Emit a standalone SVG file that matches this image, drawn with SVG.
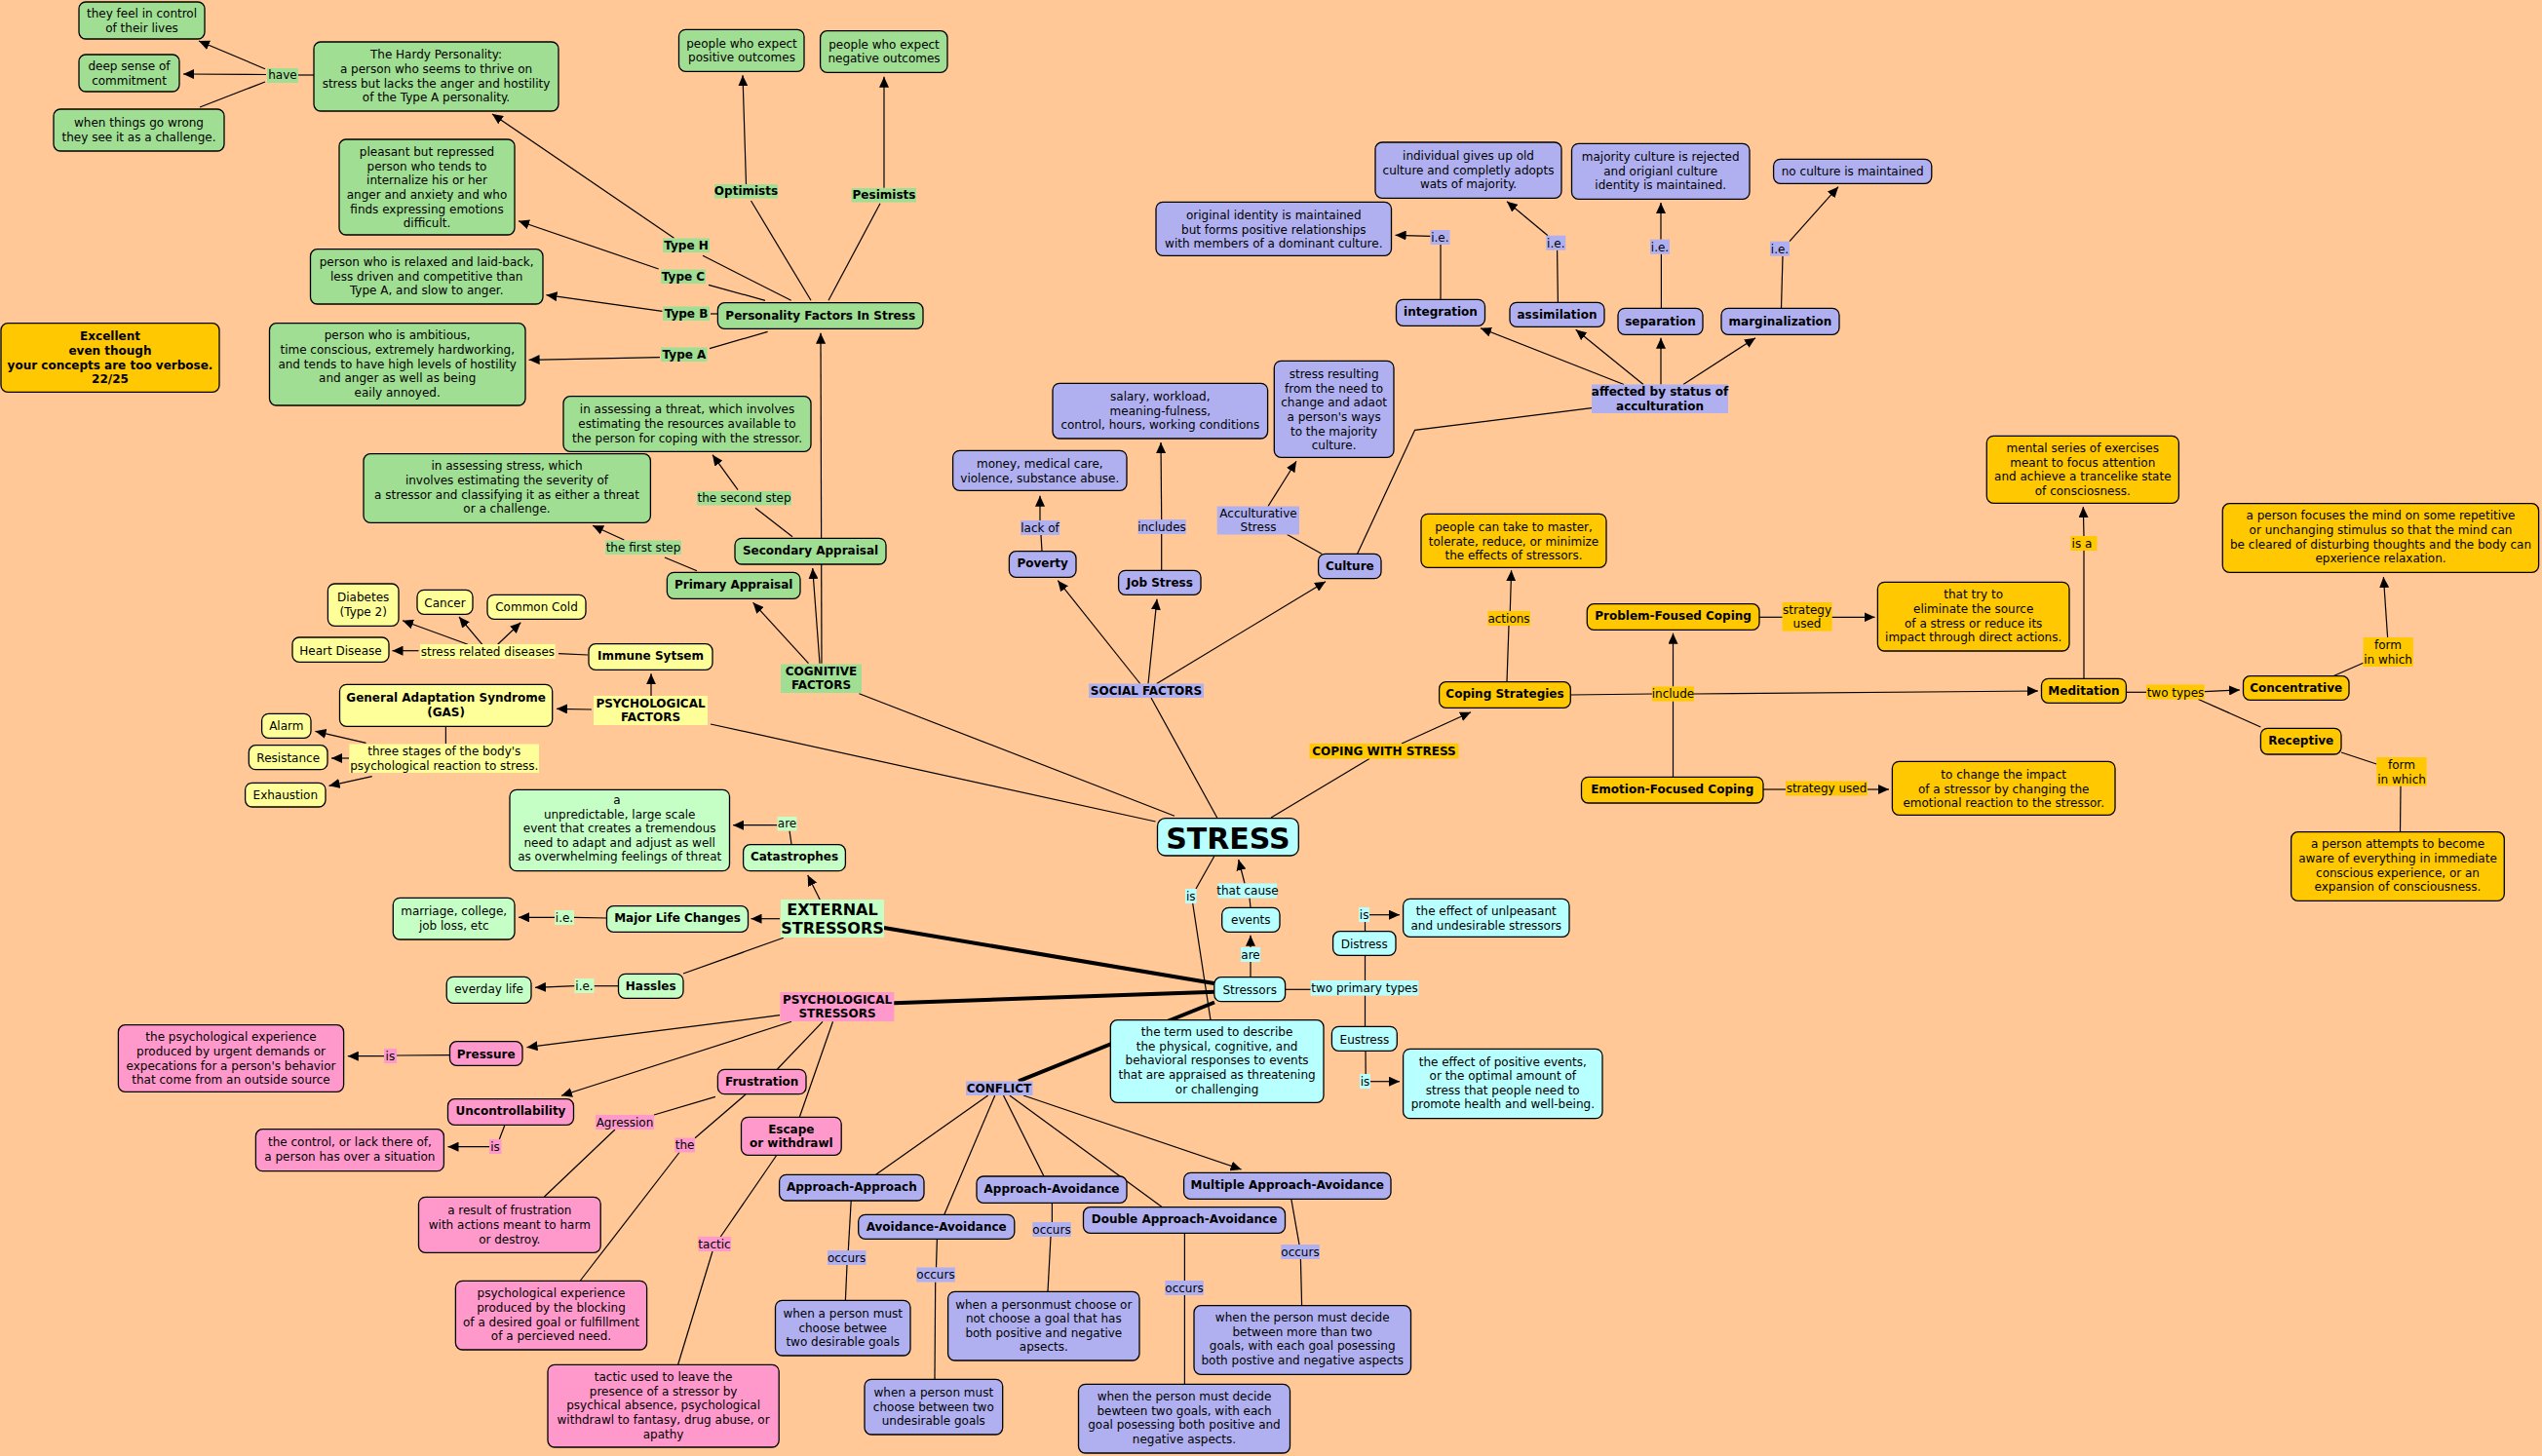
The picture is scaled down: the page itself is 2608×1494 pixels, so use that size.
<svg xmlns="http://www.w3.org/2000/svg" width="2608" height="1494" viewBox="0 0 2608 1494">
<defs>
<marker id="ar" markerWidth="12" markerHeight="10" refX="11" refY="5" orient="auto" markerUnits="userSpaceOnUse"><path d="M0,0 L11,5 L0,10 z" fill="#000"/></marker>
<style>
.t{font-family:"DejaVu Sans",Verdana,"Liberation Sans",sans-serif;font-size:12px;text-anchor:middle;fill:#000}
.b{font-weight:bold}
.n{stroke:#000;stroke-width:1.3}
.g{fill:#A0DE93}.lg{fill:#C6FFC6}.y{fill:#FFFF99}.p{fill:#B0B0F0}.o{fill:#FFC800}.c{fill:#B8FFFF}.k{fill:#FF99CC}
#conn line,#conn polyline{stroke:#000;stroke-width:1.2;fill:none}
#conn line.thick{stroke-width:4}
.a{marker-end:url(#ar)}
</style>
</defs>
<rect x="0" y="0" width="2608" height="1494" fill="#FFC896"/>
<g id="conn">
<line class="a" x1="272" y1="70.7" x2="204" y2="42"/>
<line class="a" x1="273" y1="76.5" x2="188" y2="76"/>
<line x1="272" y1="84" x2="205" y2="110"/>
<line x1="306" y1="77" x2="322" y2="77"/>
<line class="a" x1="691.5" y1="244.3" x2="505" y2="117"/>
<line x1="721" y1="262.3" x2="811.7" y2="308.3"/>
<line class="a" x1="675.7" y1="276" x2="532" y2="226.7"/>
<line x1="727" y1="292.3" x2="785" y2="308.3"/>
<line class="a" x1="679.4" y1="319.3" x2="560.5" y2="302.7"/>
<line x1="729" y1="322" x2="736.4" y2="322"/>
<line class="a" x1="677" y1="366.7" x2="542.6" y2="369.3"/>
<line x1="728" y1="357.7" x2="787.6" y2="340.3"/>
<line class="a" x1="765.5" y1="189.3" x2="762" y2="77.3"/>
<line x1="770.5" y1="206" x2="832" y2="308.3"/>
<line class="a" x1="907" y1="192.7" x2="907" y2="78.7"/>
<line x1="903" y1="208.7" x2="850" y2="308.3"/>
<line class="a" x1="843" y1="680.7" x2="842" y2="341.7"/>
<line class="a" x1="841" y1="680.7" x2="833.7" y2="583"/>
<line class="a" x1="829.5" y1="680.7" x2="772.6" y2="618.3"/>
<line x1="881.5" y1="711.7" x2="1205" y2="837.3"/>
<line x1="813" y1="550.7" x2="775" y2="521.3"/>
<line class="a" x1="757" y1="502.7" x2="731" y2="466.7"/>
<line x1="715" y1="585.7" x2="682" y2="572"/>
<line class="a" x1="640.3" y1="554" x2="608" y2="539.3"/>
<line class="a" x1="668" y1="714.7" x2="668" y2="691.3"/>
<line class="a" x1="607" y1="728" x2="571" y2="727.3"/>
<line x1="729" y1="743" x2="1185.5" y2="843"/>
<line x1="603" y1="672" x2="573" y2="670.7"/>
<line class="a" x1="429.5" y1="667.7" x2="402.5" y2="667.7"/>
<line class="a" x1="480" y1="661.3" x2="413" y2="636.7"/>
<line class="a" x1="494.8" y1="661.3" x2="471" y2="633"/>
<line class="a" x1="510.6" y1="661.3" x2="534.3" y2="638.7"/>
<line x1="457.4" y1="746" x2="457.4" y2="763"/>
<line class="a" x1="375.5" y1="762.3" x2="323.5" y2="750.3"/>
<line class="a" x1="358" y1="778" x2="340" y2="778"/>
<line class="a" x1="381.7" y1="796.7" x2="337.6" y2="806.3"/>
<line class="a" x1="842" y1="924.7" x2="828.7" y2="898"/>
<line class="a" x1="800" y1="942.7" x2="770.5" y2="942.7"/>
<line x1="803.8" y1="962.3" x2="701" y2="999"/>
<line class="thick" x1="907" y1="952" x2="1247" y2="1009.3"/>
<line x1="812" y1="866" x2="810" y2="852.3"/>
<line class="a" x1="797" y1="846.7" x2="752" y2="846.7"/>
<line x1="622" y1="942" x2="589" y2="941.3"/>
<line class="a" x1="569" y1="941.3" x2="532" y2="941.3"/>
<line x1="634" y1="1011.7" x2="609.5" y2="1011.7"/>
<line class="a" x1="589.5" y1="1011.7" x2="549" y2="1013.3"/>
<line class="a" x1="800" y1="1041.7" x2="540.5" y2="1074.7"/>
<line class="a" x1="812" y1="1048.3" x2="576" y2="1124.3"/>
<line x1="844" y1="1048.3" x2="797.5" y2="1097"/>
<line x1="854.5" y1="1048.3" x2="820.4" y2="1146"/>
<line class="thick" x1="917" y1="1029.3" x2="1246.6" y2="1017.7"/>
<line x1="461" y1="1082.7" x2="407" y2="1083"/>
<line class="a" x1="394" y1="1083.7" x2="356.8" y2="1083.7"/>
<line x1="517.7" y1="1155" x2="512.3" y2="1169"/>
<line class="a" x1="502" y1="1176.7" x2="459.5" y2="1176.7"/>
<line x1="734" y1="1125.3" x2="671" y2="1144"/>
<line x1="631" y1="1159" x2="558.4" y2="1228"/>
<line x1="765" y1="1123" x2="713" y2="1167.7"/>
<line x1="697" y1="1182.5" x2="595.4" y2="1314"/>
<line x1="796.7" y1="1185.5" x2="739.3" y2="1269"/>
<line x1="731" y1="1284" x2="695.7" y2="1400"/>
<line x1="1245.8" y1="878.5" x2="1227" y2="912"/>
<line x1="1223.7" y1="927" x2="1242" y2="1046.7"/>
<line class="a" x1="1277" y1="906.5" x2="1270.7" y2="882"/>
<line x1="1283" y1="931" x2="1282" y2="921.5"/>
<line class="a" x1="1283" y1="972" x2="1283" y2="959.7"/>
<line x1="1283" y1="1002.7" x2="1283" y2="987"/>
<line x1="1248.7" y1="839" x2="1181" y2="716"/>
<line x1="1304" y1="839" x2="1405" y2="778.5"/>
<line class="a" x1="1169.7" y1="701.5" x2="1085.3" y2="595.7"/>
<line class="a" x1="1178" y1="701.5" x2="1187" y2="614.7"/>
<line class="a" x1="1186.7" y1="701.5" x2="1360" y2="596.7"/>
<line x1="1069" y1="565.7" x2="1068" y2="549"/>
<line class="a" x1="1067" y1="534" x2="1067" y2="508.7"/>
<line x1="1191.7" y1="585.3" x2="1191.7" y2="548"/>
<line class="a" x1="1191.7" y1="533" x2="1191" y2="454"/>
<line x1="1356" y1="568.3" x2="1320.6" y2="548.5"/>
<line class="a" x1="1301" y1="519.5" x2="1330" y2="473.3"/>
<polyline points="1392.6,568.3 1451.6,441.3 1633,418.7"/>
<line class="a" x1="1666" y1="394.5" x2="1519" y2="336.7"/>
<line class="a" x1="1686" y1="394.5" x2="1616.7" y2="338.3"/>
<line class="a" x1="1704" y1="394.5" x2="1704" y2="346.7"/>
<line class="a" x1="1727" y1="394.5" x2="1801" y2="346.7"/>
<line x1="1478" y1="307.3" x2="1478" y2="251"/>
<line class="a" x1="1467.5" y1="242.3" x2="1431.6" y2="241.3"/>
<line x1="1598.4" y1="310.3" x2="1597.6" y2="256.7"/>
<line class="a" x1="1588" y1="241.7" x2="1546" y2="206.7"/>
<line x1="1704.4" y1="316.3" x2="1704.4" y2="260.7"/>
<line class="a" x1="1704" y1="245.7" x2="1704" y2="208"/>
<line x1="1827.5" y1="316.3" x2="1829" y2="262.7"/>
<line class="a" x1="1836" y1="247.7" x2="1886" y2="191.7"/>
<line class="a" x1="1438" y1="763" x2="1509" y2="730.7"/>
<line x1="1546" y1="699.7" x2="1548" y2="642"/>
<line class="a" x1="1549.3" y1="627" x2="1550.6" y2="585.3"/>
<line x1="1611.3" y1="713" x2="1695" y2="712"/>
<line class="a" x1="1716.5" y1="704.5" x2="1716.5" y2="649.7"/>
<line x1="1716.5" y1="719.5" x2="1716.5" y2="797.3"/>
<line class="a" x1="1738" y1="712" x2="2091" y2="709"/>
<line x1="1805" y1="633.3" x2="1828.7" y2="633.3"/>
<line class="a" x1="1879.5" y1="633.3" x2="1923.5" y2="633.3"/>
<line x1="1809" y1="810" x2="1832" y2="810"/>
<line class="a" x1="1916" y1="810" x2="1938" y2="810"/>
<line x1="2138" y1="696.3" x2="2138" y2="565"/>
<line class="a" x1="2138" y1="550" x2="2137.3" y2="520"/>
<line x1="2181.4" y1="710.3" x2="2202" y2="710.3"/>
<line class="a" x1="2261.6" y1="709.7" x2="2298" y2="708"/>
<line x1="2255.4" y1="717.5" x2="2319.4" y2="746"/>
<line x1="2393.8" y1="693.7" x2="2424.6" y2="680.3"/>
<line class="a" x1="2449.6" y1="654" x2="2445.4" y2="592"/>
<line x1="2402" y1="772" x2="2438.3" y2="784"/>
<line x1="2463" y1="806.5" x2="2462.5" y2="853.7"/>
<line x1="1318.6" y1="1015.3" x2="1344.7" y2="1015.3"/>
<line x1="1400.5" y1="1006" x2="1400.5" y2="980.3"/>
<line x1="1400.5" y1="1021.5" x2="1400.5" y2="1053.3"/>
<line x1="1400.5" y1="955.7" x2="1400.5" y2="946"/>
<line class="a" x1="1405" y1="938.7" x2="1436" y2="938.7"/>
<line x1="1401" y1="1078.3" x2="1401.2" y2="1102"/>
<line class="a" x1="1406" y1="1109.7" x2="1436" y2="1109.7"/>
<line class="thick" x1="1246" y1="1028.5" x2="1045" y2="1109.3"/>
<line x1="1013.7" y1="1124" x2="898.6" y2="1205.3"/>
<line x1="1020.8" y1="1124" x2="968.8" y2="1246.3"/>
<line x1="1029.5" y1="1124" x2="1071" y2="1207"/>
<line x1="1035.8" y1="1124" x2="1192.5" y2="1238.7"/>
<line class="a" x1="1050" y1="1124" x2="1273.6" y2="1200"/>
<line x1="873.2" y1="1232" x2="870.3" y2="1283"/>
<line x1="869" y1="1298" x2="867.4" y2="1334.3"/>
<line x1="961.4" y1="1271.3" x2="960.5" y2="1300.5"/>
<line x1="959.7" y1="1315.5" x2="959" y2="1415.3"/>
<line x1="1079.4" y1="1234.3" x2="1079.4" y2="1254"/>
<line x1="1078" y1="1269" x2="1075" y2="1325.3"/>
<line x1="1215.4" y1="1265.3" x2="1215.4" y2="1314"/>
<line x1="1215.4" y1="1329" x2="1215.4" y2="1420.3"/>
<line x1="1324.8" y1="1230.3" x2="1333" y2="1277"/>
<line x1="1334.4" y1="1292" x2="1335.6" y2="1339.7"/>
</g>
<g id="labels">
<g id="l_have"><rect class="g" x="274" y="70" width="32" height="15"/><text class="t" x="290" y="81.2">have</text></g>
<g id="l_opt"><rect class="g" x="733" y="189" width="65" height="14.5"/><text class="t b" x="765.5" y="200.2">Optimists</text></g>
<g id="l_pes"><rect class="g" x="873.6" y="193" width="66.4" height="14.5"/><text class="t b" x="907" y="204.2">Pesimists</text></g>
<g id="l_th"><rect class="g" x="680" y="244.5" width="48" height="14.5"/><text class="t b" x="704" y="255.9">Type H</text></g>
<g id="l_tc"><rect class="g" x="678" y="276.5" width="46" height="14.5"/><text class="t b" x="701" y="287.9">Type C</text></g>
<g id="l_tb"><rect class="g" x="680" y="314.5" width="48" height="14.5"/><text class="t b" x="704" y="325.9">Type B</text></g>
<g id="l_ta"><rect class="g" x="678" y="356.5" width="47.6" height="14.5"/><text class="t b" x="702" y="367.9">Type A</text></g>
<g id="l_second"><rect class="g" x="715" y="504" width="97" height="14.5"/><text class="t" x="763.5" y="515.2">the second step</text></g>
<g id="l_first"><rect class="g" x="621" y="554.5" width="78" height="14.5"/><text class="t" x="660" y="565.9">the first step</text></g>
<g id="l_cog"><rect class="g" x="801" y="681.5" width="83" height="29.5"/><text class="t b" x="842.5" y="693.2">COGNITIVE</text><text class="t b" x="842.5" y="707.4">FACTORS</text></g>
<g id="l_srd"><rect class="y" x="431" y="661" width="138.6" height="15"/><text class="t" x="500.4" y="672.9">stress related diseases</text></g>
<g id="l_psyf"><rect class="y" x="609" y="714" width="117" height="30"/><text class="t b" x="667.5" y="725.9">PSYCHOLOGICAL</text><text class="t b" x="667.5" y="740.2">FACTORS</text></g>
<g id="l_three"><rect class="y" x="358.4" y="763.5" width="194.6" height="29.5"/><text class="t" x="455.8" y="775.2">three stages of the body's</text><text class="t" x="455.8" y="789.5">psychological reaction to stress.</text></g>
<g id="l_are1"><rect class="lg" x="797.5" y="838" width="20" height="14.5"/><text class="t" x="807.5" y="849.2">are</text></g>
<g id="l_ext"><rect class="lg" x="801" y="923" width="106" height="39"/><text class="t b" x="854" y="938.8" style="font-size:16px">EXTERNAL</text><text class="t b" x="854" y="958" style="font-size:16px">STRESSORS</text></g>
<g id="l_ie1"><rect class="lg" x="569" y="934" width="20" height="15"/><text class="t" x="579" y="945.5">i.e.</text></g>
<g id="l_ie2"><rect class="lg" x="589.5" y="1004" width="20" height="15"/><text class="t" x="599.5" y="1015.9">i.e.</text></g>
<g id="l_psys"><rect class="k" x="800.4" y="1018" width="116.9" height="30"/><text class="t b" x="859" y="1029.9">PSYCHOLOGICAL</text><text class="t b" x="859" y="1044.2">STRESSORS</text></g>
<g id="l_is1"><rect class="k" x="394" y="1076" width="13" height="15"/><text class="t" x="400.4" y="1087.9">is</text></g>
<g id="l_is2"><rect class="k" x="502" y="1169" width="12.5" height="15"/><text class="t" x="508" y="1180.5">is</text></g>
<g id="l_agr"><rect class="k" x="611" y="1144" width="60" height="15"/><text class="t" x="641" y="1155.9">Agression</text></g>
<g id="l_the"><rect class="k" x="692.3" y="1167.5" width="20.7" height="15"/><text class="t" x="702.6" y="1179.2">the</text></g>
<g id="l_tactic"><rect class="k" x="716.4" y="1269" width="33.6" height="15"/><text class="t" x="733" y="1280.9">tactic</text></g>
<g id="l_conflict"><rect class="p" x="991" y="1109.5" width="68.5" height="14.5"/><text class="t b" x="1025" y="1120.9">CONFLICT</text></g>
<g id="l_occ1"><rect class="p" x="849" y="1283" width="39.5" height="15"/><text class="t" x="868.6" y="1294.9">occurs</text></g>
<g id="l_occ2"><rect class="p" x="940.3" y="1300.5" width="39.5" height="15"/><text class="t" x="960" y="1312.2">occurs</text></g>
<g id="l_occ3"><rect class="p" x="1059.3" y="1254" width="39.5" height="15"/><text class="t" x="1079" y="1265.9">occurs</text></g>
<g id="l_occ4"><rect class="p" x="1195.3" y="1314" width="39.5" height="15"/><text class="t" x="1215" y="1325.9">occurs</text></g>
<g id="l_occ5"><rect class="p" x="1314.3" y="1277" width="39.5" height="15"/><text class="t" x="1334" y="1288.9">occurs</text></g>
<g id="l_social"><rect class="p" x="1117" y="701.5" width="118" height="14.5"/><text class="t b" x="1176" y="712.9">SOCIAL FACTORS</text></g>
<g id="l_lack"><rect class="p" x="1047" y="534" width="40" height="15"/><text class="t" x="1067" y="545.9">lack of</text></g>
<g id="l_incl"><rect class="p" x="1167.6" y="533" width="49.1" height="15"/><text class="t" x="1192" y="544.9">includes</text></g>
<g id="l_accst"><rect class="p" x="1248.7" y="519.5" width="84.3" height="29"/><text class="t" x="1291" y="531.2">Acculturative</text><text class="t" x="1291" y="545.2">Stress</text></g>
<g id="l_aff"><rect class="p" x="1633" y="394.5" width="140" height="29.5"/><text class="t b" x="1703" y="406.2">affected by status of</text><text class="t b" x="1703" y="420.5">acculturation</text></g>
<g id="l_ie3"><rect class="p" x="1467.5" y="236" width="20" height="15"/><text class="t" x="1477.4" y="247.9">i.e.</text></g>
<g id="l_ie4"><rect class="p" x="1586.3" y="241.7" width="20" height="15"/><text class="t" x="1596.3" y="253.5">i.e.</text></g>
<g id="l_ie5"><rect class="p" x="1693" y="245.7" width="20" height="15"/><text class="t" x="1703" y="257.5">i.e.</text></g>
<g id="l_ie6"><rect class="p" x="1816" y="247.7" width="20" height="15"/><text class="t" x="1826" y="259.5">i.e.</text></g>
<g id="l_is3"><rect class="c" x="1216" y="912" width="11.5" height="15"/><text class="t" x="1221.7" y="923.9">is</text></g>
<g id="l_cause"><rect class="c" x="1249.5" y="906.5" width="60.5" height="15"/><text class="t" x="1280" y="918.2">that cause</text></g>
<g id="l_are2"><rect class="c" x="1273" y="972" width="20" height="15"/><text class="t" x="1283" y="983.9">are</text></g>
<g id="l_twop"><rect class="c" x="1344.7" y="1006" width="110.7" height="15.5"/><text class="t" x="1400" y="1017.9">two primary types</text></g>
<g id="l_is4"><rect class="c" x="1394" y="931" width="11" height="15"/><text class="t" x="1399.6" y="942.9">is</text></g>
<g id="l_is5"><rect class="c" x="1395" y="1102" width="11" height="15"/><text class="t" x="1400.5" y="1113.9">is</text></g>
<g id="l_cws"><rect class="o" x="1343.5" y="763" width="153" height="15.5"/><text class="t b" x="1420" y="774.9">COPING WITH STRESS</text></g>
<g id="l_actions"><rect class="o" x="1526.5" y="627" width="43.5" height="15"/><text class="t" x="1548" y="638.9">actions</text></g>
<g id="l_include"><rect class="o" x="1695" y="704.5" width="43" height="15"/><text class="t" x="1716.5" y="716.2">include</text></g>
<g id="l_su1"><rect class="o" x="1828.7" y="618" width="50.8" height="29.5"/><text class="t" x="1854" y="629.9">strategy</text><text class="t" x="1854" y="644.2">used</text></g>
<g id="l_su2"><rect class="o" x="1832" y="801.5" width="84" height="15"/><text class="t" x="1874" y="813.2">strategy used</text></g>
<g id="l_isa"><rect class="o" x="2124.4" y="550" width="27" height="15"/><text class="t" x="2136" y="561.9">is a</text></g>
<g id="l_twot"><rect class="o" x="2202" y="702.5" width="59.6" height="15"/><text class="t" x="2232" y="714.5">two types</text></g>
<g id="l_form1"><rect class="o" x="2424.6" y="654" width="51.2" height="30"/><text class="t" x="2450" y="666.2">form</text><text class="t" x="2450" y="680.5">in which</text></g>
<g id="l_form2"><rect class="o" x="2438.3" y="777" width="51.2" height="29.5"/><text class="t" x="2464" y="788.9">form</text><text class="t" x="2464" y="803.5">in which</text></g>
</g>
<g id="n_feel"><rect class="n g" x="81" y="2" width="129" height="38" rx="7"/><text class="t"><tspan x="145.5" y="18">they feel in control</tspan><tspan x="145.5" y="32.5">of their lives</tspan></text></g>
<g id="n_commit"><rect class="n g" x="81" y="56" width="103" height="38" rx="7"/><text class="t"><tspan x="132.5" y="72">deep sense of</tspan><tspan x="132.5" y="86.5">commitment</tspan></text></g>
<g id="n_wrong"><rect class="n g" x="55" y="112" width="175" height="43" rx="7"/><text class="t"><tspan x="142.5" y="130">when things go wrong</tspan><tspan x="142.5" y="145">they see it as a challenge.</tspan></text></g>
<g id="n_hardy"><rect class="n g" x="322" y="43" width="251" height="71" rx="7"/><text class="t"><tspan x="447.5" y="60">The Hardy Personality:</tspan><tspan x="447.5" y="75">a person who seems to thrive on</tspan><tspan x="447.5" y="89.5">stress but lacks the anger and hostility</tspan><tspan x="447.5" y="104">of the Type A personality.</tspan></text></g>
<g id="n_typec"><rect class="n g" x="348" y="143" width="180" height="98" rx="7"/><text class="t"><tspan x="438" y="160.2">pleasant but repressed</tspan><tspan x="438" y="174.9">person who tends to</tspan><tspan x="438" y="189.2">internalize his or her</tspan><tspan x="438" y="203.9">anger and anxiety and who</tspan><tspan x="438" y="218.5">finds expressing emotions</tspan><tspan x="438" y="232.9">difficult.</tspan></text></g>
<g id="n_typeb"><rect class="n g" x="318.5" y="255.7" width="238.5" height="56.3" rx="7"/><text class="t"><tspan x="437.7" y="272.9">person who is relaxed and laid-back,</tspan><tspan x="437.7" y="287.5">less driven and competitive than</tspan><tspan x="437.7" y="301.9">Type A, and slow to anger.</tspan></text></g>
<g id="n_typea"><rect class="n g" x="276.5" y="331.7" width="262.5" height="84.3" rx="7"/><text class="t"><tspan x="407.7" y="348.2">person who is ambitious,</tspan><tspan x="407.7" y="362.9">time conscious, extremely hardworking,</tspan><tspan x="407.7" y="377.5">and tends to have high levels of hostility</tspan><tspan x="407.7" y="392.2">and anger as well as being</tspan><tspan x="407.7" y="406.9">eaily annoyed.</tspan></text></g>
<g id="n_excellent"><rect class="n o" x="1" y="331.7" width="224" height="70.6" rx="7"/><text class="t b"><tspan x="113" y="349.2">Excellent</tspan><tspan x="113" y="363.9">even though</tspan><tspan x="113" y="378.5">your concepts are too verbose.</tspan><tspan x="113" y="392.9">22/25</tspan></text></g>
<g id="n_pos"><rect class="n g" x="696.5" y="30.3" width="128.5" height="43" rx="7"/><text class="t"><tspan x="761" y="48.5">people who expect</tspan><tspan x="761" y="62.9">positive outcomes</tspan></text></g>
<g id="n_neg"><rect class="n g" x="841.6" y="31.7" width="130.4" height="42.6" rx="7"/><text class="t"><tspan x="907" y="49.5">people who expect</tspan><tspan x="907" y="64">negative outcomes</tspan></text></g>
<g id="n_pers"><rect class="n g" x="736.4" y="310.7" width="210.6" height="26.6" rx="7"/><text class="t b" x="841.7" y="327.5">Personality Factors In Stress</text></g>
<g id="n_threat"><rect class="n g" x="578" y="406.7" width="254" height="56.6" rx="7"/><text class="t"><tspan x="705" y="424.2">in assessing a threat, which involves</tspan><tspan x="705" y="438.9">estimating the resources available to</tspan><tspan x="705" y="453.5">the person for coping with the stressor.</tspan></text></g>
<g id="n_assess"><rect class="n g" x="373" y="465.7" width="294.4" height="70.6" rx="7"/><text class="t"><tspan x="520" y="482.2">in assessing stress, which</tspan><tspan x="520" y="496.5">involves estimating the severity of</tspan><tspan x="520" y="511.5">a stressor and classifying it as either a threat</tspan><tspan x="520" y="526.2">or a challenge.</tspan></text></g>
<g id="n_secondary"><rect class="n g" x="754" y="552.3" width="155" height="26.7" rx="7"/><text class="t b" x="831.5" y="569.2">Secondary Appraisal</text></g>
<g id="n_primary"><rect class="n g" x="684.4" y="587.3" width="136.6" height="27" rx="7"/><text class="t b" x="752.7" y="604.2">Primary Appraisal</text></g>
<g id="n_immune"><rect class="n y" x="604" y="660.7" width="127" height="26.6" rx="7"/><text class="t b" x="667.5" y="677">Immune Sytsem</text></g>
<g id="n_gas"><rect class="n y" x="348.5" y="702.3" width="218.2" height="43" rx="7"/><text class="t b"><tspan x="457.6" y="720.2">General Adaptation Syndrome</tspan><tspan x="457.6" y="734.5">(GAS)</tspan></text></g>
<g id="n_heart"><rect class="n y" x="300" y="654" width="99" height="25.3" rx="7"/><text class="t" x="349.5" y="671.9">Heart Disease</text></g>
<g id="n_diab"><rect class="n y" x="336.4" y="599" width="72.6" height="43.3" rx="7"/><text class="t"><tspan x="372.7" y="616.9">Diabetes</tspan><tspan x="372.7" y="631.9">(Type 2)</tspan></text></g>
<g id="n_cancer"><rect class="n y" x="428" y="605.3" width="57" height="25" rx="7"/><text class="t" x="456.5" y="622.5">Cancer</text></g>
<g id="n_cold"><rect class="n y" x="500" y="610.3" width="101" height="25" rx="7"/><text class="t" x="550.5" y="627.2">Common Cold</text></g>
<g id="n_alarm"><rect class="n y" x="268.6" y="732.3" width="50.4" height="25" rx="7"/><text class="t" x="293.8" y="748.9">Alarm</text></g>
<g id="n_resist"><rect class="n y" x="255.3" y="764.7" width="80.7" height="25" rx="7"/><text class="t" x="295.7" y="781.5">Resistance</text></g>
<g id="n_exhaust"><rect class="n y" x="251.6" y="803.3" width="82.4" height="24.7" rx="7"/><text class="t" x="292.8" y="819.9">Exhaustion</text></g>
<g id="n_catdef"><rect class="n lg" x="523" y="810.3" width="225.5" height="83.4" rx="7"/><text class="t"><tspan x="633" y="824.9">a</tspan><tspan x="635.7" y="839.5">unpredictable, large scale</tspan><tspan x="635.7" y="853.9">event that creates a tremendous</tspan><tspan x="635.7" y="868.5">need to adapt and adjust as well</tspan><tspan x="635.7" y="882.9">as overwhelming feelings of threat</tspan></text></g>
<g id="n_catas"><rect class="n lg" x="762.6" y="866.7" width="104.8" height="27" rx="7"/><text class="t b" x="815" y="883.2">Catastrophes</text></g>
<g id="n_major"><rect class="n lg" x="622.5" y="929.7" width="145" height="26.6" rx="7"/><text class="t b" x="695" y="946.2">Major Life Changes</text></g>
<g id="n_marriage"><rect class="n lg" x="403.3" y="921.3" width="124.7" height="42.7" rx="7"/><text class="t"><tspan x="465.7" y="939.2">marriage, college,</tspan><tspan x="465.7" y="953.9">job loss, etc</tspan></text></g>
<g id="n_hassles"><rect class="n lg" x="634.5" y="999.3" width="66.5" height="25" rx="7"/><text class="t b" x="667.7" y="1015.9">Hassles</text></g>
<g id="n_everyday"><rect class="n lg" x="458.2" y="1002.3" width="86.8" height="27" rx="7"/><text class="t" x="501.6" y="1019.2">everday life</text></g>
<g id="n_pressure"><rect class="n k" x="461.5" y="1068.7" width="74.5" height="24.6" rx="7"/><text class="t b" x="498.7" y="1085.9">Pressure</text></g>
<g id="n_pressdef"><rect class="n k" x="121.4" y="1051.7" width="231.2" height="68.6" rx="7"/><text class="t"><tspan x="237" y="1068.2">the psychological experience</tspan><tspan x="237" y="1082.9">produced by urgent demands or</tspan><tspan x="237" y="1097.5">expecations for a person's behavior</tspan><tspan x="237" y="1111.9">that come from an outside source</tspan></text></g>
<g id="n_uncontrol"><rect class="n k" x="459.5" y="1127.7" width="129" height="26.6" rx="7"/><text class="t b" x="524" y="1144.2">Uncontrollability</text></g>
<g id="n_controldef"><rect class="n k" x="262.4" y="1158.7" width="193" height="43" rx="7"/><text class="t"><tspan x="358.9" y="1176.2">the control, or lack there of,</tspan><tspan x="358.9" y="1190.9">a person has over a situation</tspan></text></g>
<g id="n_result"><rect class="n k" x="429.5" y="1228.3" width="186.7" height="57" rx="7"/><text class="t"><tspan x="522.8" y="1246.2">a result of frustration</tspan><tspan x="522.8" y="1260.9">with actions meant to harm</tspan><tspan x="522.8" y="1275.5">or destroy.</tspan></text></g>
<g id="n_psyexp"><rect class="n k" x="467.4" y="1314.3" width="196.2" height="70.7" rx="7"/><text class="t"><tspan x="565.5" y="1331.2">psychological experience</tspan><tspan x="565.5" y="1345.9">produced by the blocking</tspan><tspan x="565.5" y="1360.5">of a desired goal or fulfillment</tspan><tspan x="565.5" y="1374.9">of a percieved need.</tspan></text></g>
<g id="n_tacticdef"><rect class="n k" x="562" y="1400.3" width="237.2" height="84.7" rx="7"/><text class="t"><tspan x="680.6" y="1416.9">tactic used to leave the</tspan><tspan x="680.6" y="1431.5">presence of a stressor by</tspan><tspan x="680.6" y="1446.2">psychical absence, psychological</tspan><tspan x="680.6" y="1460.9">withdrawl to fantasy, drug abuse, or</tspan><tspan x="680.6" y="1475.5">apathy</tspan></text></g>
<g id="n_frustration"><rect class="n k" x="736.4" y="1097.3" width="90.6" height="25.4" rx="7"/><text class="t b" x="781.7" y="1114.2">Frustration</text></g>
<g id="n_escape"><rect class="n k" x="760.5" y="1146.3" width="102.7" height="39" rx="7"/><text class="t b"><tspan x="811.8" y="1162.9">Escape</tspan><tspan x="811.8" y="1177.2">or withdrawl</tspan></text></g>
<g id="n_stress"><rect class="n c" x="1187.5" y="839.7" width="144.8" height="38.3" rx="8"/><text class="t b" x="1259.9" y="870.5" style="font-size:30px">STRESS</text></g>
<g id="n_events"><rect class="n c" x="1253.7" y="931.3" width="59.3" height="25" rx="7"/><text class="t" x="1283.3" y="948.2">events</text></g>
<g id="n_stressors"><rect class="n c" x="1245.8" y="1002.7" width="72.8" height="25" rx="7"/><text class="t" x="1282.2" y="1019.5">Stressors</text></g>
<g id="n_termdef"><rect class="n c" x="1139.3" y="1046.7" width="218.7" height="84.6" rx="7"/><text class="t"><tspan x="1248.6" y="1063.2">the term used to describe</tspan><tspan x="1248.6" y="1077.9">the physical, cognitive, and</tspan><tspan x="1248.6" y="1092.2">behavioral responses to events</tspan><tspan x="1248.6" y="1106.9">that are appraised as threatening</tspan><tspan x="1248.6" y="1121.5">or challenging</tspan></text></g>
<g id="n_distress"><rect class="n c" x="1367.6" y="955.7" width="64.4" height="24.6" rx="7"/><text class="t" x="1399.8" y="972.9">Distress</text></g>
<g id="n_distdef"><rect class="n c" x="1439.6" y="922.3" width="170.4" height="39" rx="7"/><text class="t"><tspan x="1524.8" y="938.9">the effect of unlpeasant</tspan><tspan x="1524.8" y="953.9">and undesirable stressors</tspan></text></g>
<g id="n_eustress"><rect class="n c" x="1366.4" y="1053.3" width="66.9" height="25" rx="7"/><text class="t" x="1399.9" y="1070.9">Eustress</text></g>
<g id="n_eudef"><rect class="n c" x="1439.6" y="1076.3" width="204.4" height="71.4" rx="7"/><text class="t"><tspan x="1541.8" y="1093.5">the effect of positive events,</tspan><tspan x="1541.8" y="1107.9">or the optimal amount of</tspan><tspan x="1541.8" y="1122.5">stress that people need to</tspan><tspan x="1541.8" y="1136.9">promote health and well-being.</tspan></text></g>
<g id="n_approach"><rect class="n p" x="799.6" y="1205.3" width="148.4" height="26.7" rx="7"/><text class="t b" x="873.8" y="1222.2">Approach-Approach</text></g>
<g id="n_avoid"><rect class="n p" x="880.7" y="1246.3" width="160.1" height="25" rx="7"/><text class="t b" x="960.7" y="1263.2">Avoidance-Avoidance</text></g>
<g id="n_appavoid"><rect class="n p" x="1002" y="1207" width="154" height="27.3" rx="7"/><text class="t b" x="1079" y="1223.9">Approach-Avoidance</text></g>
<g id="n_double"><rect class="n p" x="1111.5" y="1238.7" width="207" height="26.6" rx="7"/><text class="t b" x="1215" y="1255.2">Double Approach-Avoidance</text></g>
<g id="n_multiple"><rect class="n p" x="1214.6" y="1203.3" width="212.4" height="27" rx="7"/><text class="t b" x="1320.8" y="1220.2">Multiple Approach-Avoidance</text></g>
<g id="n_aadef"><rect class="n p" x="795.5" y="1334.3" width="138.5" height="56.7" rx="7"/><text class="t"><tspan x="864.7" y="1352.2">when a person must</tspan><tspan x="864.7" y="1366.5">choose betwee</tspan><tspan x="864.7" y="1381.2">two desirable goals</tspan></text></g>
<g id="n_avdef"><rect class="n p" x="887" y="1415.3" width="141.7" height="56.7" rx="7"/><text class="t"><tspan x="957.8" y="1433.2">when a person must</tspan><tspan x="957.8" y="1447.9">choose between two</tspan><tspan x="957.8" y="1462.2">undesirable goals</tspan></text></g>
<g id="n_apavdef"><rect class="n p" x="972.6" y="1325.3" width="196.4" height="70.7" rx="7"/><text class="t"><tspan x="1070.8" y="1342.5">when a personmust choose or</tspan><tspan x="1070.8" y="1356.9">not choose a goal that has</tspan><tspan x="1070.8" y="1371.5">both positive and negative</tspan><tspan x="1070.8" y="1385.9">apsects.</tspan></text></g>
<g id="n_doubledef"><rect class="n p" x="1106.5" y="1420.3" width="217" height="70.7" rx="7"/><text class="t"><tspan x="1215" y="1437.2">when the person must decide</tspan><tspan x="1215" y="1451.9">bewteen two goals, with each</tspan><tspan x="1215" y="1466.2">goal posessing both positive and</tspan><tspan x="1215" y="1480.9">negative aspects.</tspan></text></g>
<g id="n_multdef"><rect class="n p" x="1225" y="1339.7" width="222.5" height="70.6" rx="7"/><text class="t"><tspan x="1336.2" y="1356.2">when the person must decide</tspan><tspan x="1336.2" y="1370.9">between more than two</tspan><tspan x="1336.2" y="1385.2">goals, with each goal posessing</tspan><tspan x="1336.2" y="1399.9">both postive and negative aspects</tspan></text></g>
<g id="n_poverty"><rect class="n p" x="1035.4" y="565.7" width="68.6" height="26.6" rx="7"/><text class="t b" x="1069.7" y="581.9">Poverty</text></g>
<g id="n_money"><rect class="n p" x="977.6" y="462.3" width="178.4" height="41" rx="7"/><text class="t"><tspan x="1066.8" y="480.2">money, medical care,</tspan><tspan x="1066.8" y="494.5">violence, substance abuse.</tspan></text></g>
<g id="n_job"><rect class="n p" x="1147.6" y="585.3" width="84.4" height="25" rx="7"/><text class="t b" x="1189.8" y="602.2">Job Stress</text></g>
<g id="n_salary"><rect class="n p" x="1080" y="393.3" width="220.6" height="56.7" rx="7"/><text class="t"><tspan x="1190.3" y="411.2">salary, workload,</tspan><tspan x="1190.3" y="425.9">meaning-fulness,</tspan><tspan x="1190.3" y="440.2">control, hours, working conditions</tspan></text></g>
<g id="n_culture"><rect class="n p" x="1352.6" y="568.3" width="64.4" height="25.4" rx="7"/><text class="t b" x="1384.8" y="584.9">Culture</text></g>
<g id="n_stressres"><rect class="n p" x="1307.3" y="370.3" width="122.7" height="99" rx="7"/><text class="t"><tspan x="1368.6" y="388.2">stress resulting</tspan><tspan x="1368.6" y="402.5">from the need to</tspan><tspan x="1368.6" y="417.2">change and adaot</tspan><tspan x="1368.6" y="431.9">a person's ways</tspan><tspan x="1368.6" y="446.5">to the majority</tspan><tspan x="1368.6" y="460.9">culture.</tspan></text></g>
<g id="n_origid"><rect class="n p" x="1186" y="207.3" width="241.5" height="55" rx="7"/><text class="t"><tspan x="1306.8" y="225.2">original identity is maintained</tspan><tspan x="1306.8" y="239.9">but forms positive relationships</tspan><tspan x="1306.8" y="254.2">with members of a dominant culture.</tspan></text></g>
<g id="n_integration"><rect class="n p" x="1432.5" y="307.3" width="91" height="27" rx="7"/><text class="t b" x="1478" y="324.2">integration</text></g>
<g id="n_assim"><rect class="n p" x="1549" y="310.3" width="97" height="25" rx="7"/><text class="t b" x="1597.5" y="327.2">assimilation</text></g>
<g id="n_separation"><rect class="n p" x="1660" y="316.3" width="87" height="27" rx="7"/><text class="t b" x="1703.5" y="333.5">separation</text></g>
<g id="n_marg"><rect class="n p" x="1766" y="316.3" width="121" height="27" rx="7"/><text class="t b" x="1826.5" y="333.5">marginalization</text></g>
<g id="n_givesup"><rect class="n p" x="1411" y="146" width="191" height="57.3" rx="7"/><text class="t"><tspan x="1506.5" y="164.2">individual gives up old</tspan><tspan x="1506.5" y="178.9">culture and completly adopts</tspan><tspan x="1506.5" y="193.2">wats of majority.</tspan></text></g>
<g id="n_rejected"><rect class="n p" x="1612.5" y="147.3" width="182.5" height="57" rx="7"/><text class="t"><tspan x="1703.7" y="165.2">majority culture is rejected</tspan><tspan x="1703.7" y="179.9">and origianl culture</tspan><tspan x="1703.7" y="194.2">identity is maintained.</tspan></text></g>
<g id="n_noculture"><rect class="n p" x="1819.6" y="163.3" width="162.2" height="25" rx="7"/><text class="t" x="1900.7" y="179.9">no culture is maintained</text></g>
<g id="n_copingdef"><rect class="n o" x="1458" y="527.3" width="190" height="55" rx="7"/><text class="t"><tspan x="1553" y="545.2">people can take to master,</tspan><tspan x="1553" y="559.9">tolerate, reduce, or minimize</tspan><tspan x="1553" y="574.2">the effects of stressors.</tspan></text></g>
<g id="n_coping"><rect class="n o" x="1476.6" y="699.7" width="134.7" height="26.6" rx="7"/><text class="t b" x="1544" y="716.2">Coping Strategies</text></g>
<g id="n_problem"><rect class="n o" x="1628.3" y="619.7" width="176.7" height="26.6" rx="7"/><text class="t b" x="1716.6" y="636.2">Problem-Foused Coping</text></g>
<g id="n_emotion"><rect class="n o" x="1622.5" y="797.3" width="186.5" height="26.7" rx="7"/><text class="t b" x="1715.7" y="814.2">Emotion-Focused Coping</text></g>
<g id="n_trydef"><rect class="n o" x="1926.4" y="597.3" width="196.6" height="70.7" rx="7"/><text class="t"><tspan x="2024.7" y="614.2">that try to</tspan><tspan x="2024.7" y="628.9">eliminate the source</tspan><tspan x="2024.7" y="643.5">of a stress or reduce its</tspan><tspan x="2024.7" y="657.9">impact through direct actions.</tspan></text></g>
<g id="n_changedef"><rect class="n o" x="1941.4" y="781.3" width="228.6" height="55" rx="7"/><text class="t"><tspan x="2055.7" y="799.2">to change the impact</tspan><tspan x="2055.7" y="813.9">of a stressor by changing the</tspan><tspan x="2055.7" y="828.2">emotional reaction to the stressor.</tspan></text></g>
<g id="n_meditation"><rect class="n o" x="2094.5" y="696.3" width="86.9" height="25" rx="7"/><text class="t b" x="2138" y="713.2">Meditation</text></g>
<g id="n_mental"><rect class="n o" x="2038.3" y="447.3" width="197.1" height="69" rx="7"/><text class="t"><tspan x="2136.8" y="464.2">mental series of exercises</tspan><tspan x="2136.8" y="478.5">meant to focus attention</tspan><tspan x="2136.8" y="493.2">and achieve a trancelike state</tspan><tspan x="2136.8" y="507.9">of consciosness.</tspan></text></g>
<g id="n_concentrative"><rect class="n o" x="2301.5" y="693.7" width="108.5" height="24.6" rx="7"/><text class="t b" x="2355.7" y="710.2">Concentrative</text></g>
<g id="n_receptive"><rect class="n o" x="2319.4" y="747.3" width="82.6" height="26.7" rx="7"/><text class="t b" x="2360.7" y="764.2">Receptive</text></g>
<g id="n_focuses"><rect class="n o" x="2280.3" y="516.7" width="324.3" height="70.6" rx="7"/><text class="t"><tspan x="2442.5" y="533.2">a person focuses the mind on some repetitive</tspan><tspan x="2442.5" y="547.9">or unchanging stimulus so that the mind can</tspan><tspan x="2442.5" y="562.5">be cleared of disturbing thoughts and the body can</tspan><tspan x="2442.5" y="576.9">epxerience relaxation.</tspan></text></g>
<g id="n_attempts"><rect class="n o" x="2350.6" y="853.7" width="218.7" height="70.6" rx="7"/><text class="t"><tspan x="2460" y="870.2">a person attempts to become</tspan><tspan x="2460" y="884.9">aware of everything in immediate</tspan><tspan x="2460" y="899.5">conscious experience, or an</tspan><tspan x="2460" y="913.9">expansion of consciousness.</tspan></text></g>
</svg>
